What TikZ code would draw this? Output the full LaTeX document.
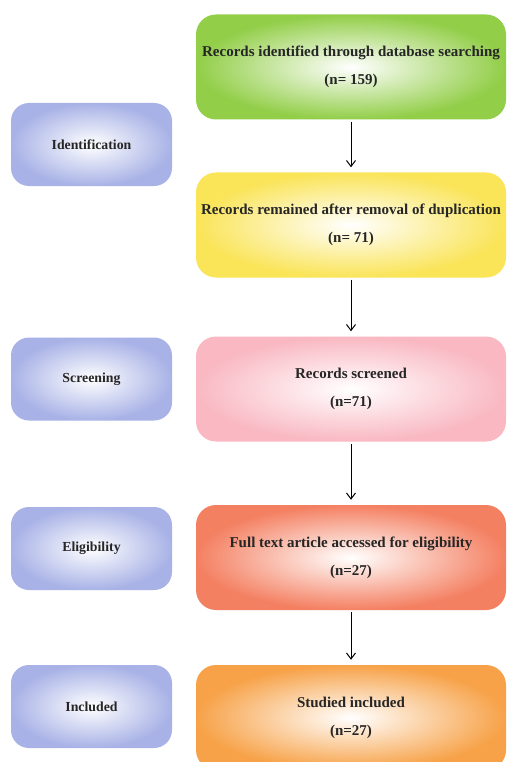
\documentclass[tikz,border=0pt]{standalone}
\usepackage{fontspec}
\setmainfont{Liberation Serif}
\usetikzlibrary{arrows.meta}
\definecolor{cgreen}{RGB}{146,206,72}
\definecolor{cyellow}{RGB}{250,228,88}
\definecolor{cpink}{RGB}{249,184,194}
\definecolor{csalmon}{RGB}{244,128,98}
\definecolor{corange}{RGB}{247,162,72}
\definecolor{cblue}{RGB}{168,178,230}
\tikzset{
  bigbox/.style={rounded corners=20pt, minimum width=310pt, minimum height=105pt,
    align=center, inner color=white, font=\bfseries\fontsize{15}{28}\selectfont, text=black!85},
  sidebox/.style={rounded corners=18pt, minimum width=161pt, minimum height=83pt,
    align=center, inner color=white, outer color=cblue, font=\bfseries\fontsize{13.8}{16}\selectfont, text=black!85},
  flowarrow/.style={line width=1pt, -{Straight Barb[length=6pt,width=9pt,line width=1pt]},
    shorten <=2pt, shorten >=5pt}
}
\begin{document}
\begin{tikzpicture}[x=1pt,y=-1pt]
\useasboundingbox (0,0) rectangle (508,762);
\clip (0,0) rectangle (508,762);
\fill[white] (0,0) rectangle (508,762);
\node[bigbox, outer color=cgreen] (g) at (351,67) {Records identified through database searching\\(n= 159)};
\node[bigbox, outer color=cyellow] (y) at (351,225) {Records remained after removal of duplication\\(n= 71)};
\node[bigbox, outer color=cpink] (p) at (351,389) {Records screened\\(n=71)};
\node[bigbox, outer color=csalmon] (s) at (351,557.5) {Full text article accessed for eligibility\\(n=27)};
\node[bigbox, outer color=corange] (o) at (351,717.5) {Studied included\\(n=27)};
\node[sidebox] (l1) at (91.5,144.5) {Identification};
\node[sidebox] (l2) at (91.5,379) {Screening};
\node[sidebox] (l3) at (91.5,548.5) {Eligibility};
\node[sidebox] (l4) at (91.5,706.5) {Included};
\draw[flowarrow] (g) -- (y);
\draw[flowarrow] (y) -- (p);
\draw[flowarrow] (p) -- (s);
\draw[flowarrow] (s) -- (o);
\end{tikzpicture}
\end{document}
